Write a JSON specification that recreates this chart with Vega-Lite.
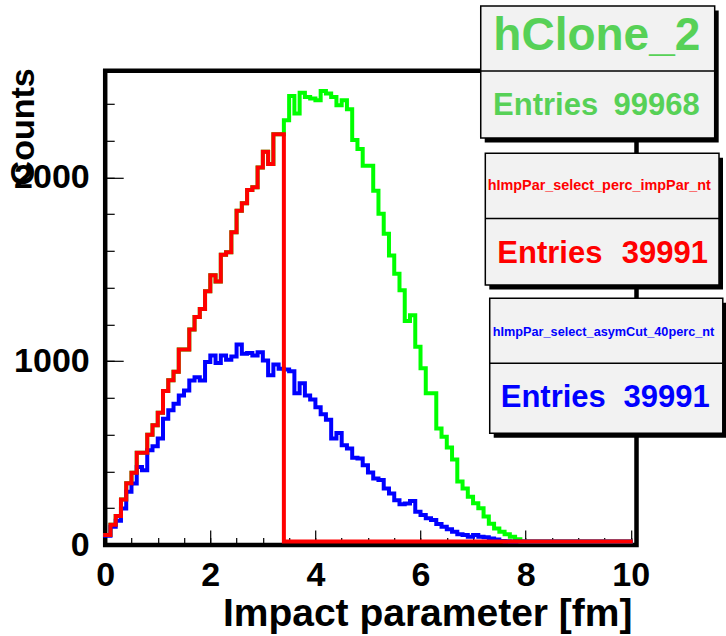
{
  "$schema": "https://vega.github.io/schema/vega-lite/v6.json",
  "autosize": {"type": "none"},
  "padding": {"left": 105.2, "top": 70.8, "right": 89.5, "bottom": 91},
  "width": 531.3,
  "height": 474.2,
  "background": "white",
  "config": {
    "view": {"stroke": "black", "strokeWidth": 4.5},
    "font": "Liberation Sans",
    "axis": {"labelFont": "Liberation Sans", "titleFont": "Liberation Sans", "labelFontWeight": "bold", "titleFontWeight": "bold", "labelColor": "black", "titleColor": "black", "tickColor": "black", "tickWidth": 1.2, "domain": false, "grid": false, "labelFlush": false, "labelOverlap": false, "zindex": 1}
  },
  "datasets": {
    "hClone_2": [
      {"b":0,"n":35},{"b":0.1,"n":91},{"b":0.2,"n":139},{"b":0.3,"n":228},{"b":0.4,"n":317},{"b":0.5,"n":374},{"b":0.6,"n":483},{"b":0.7,"n":483},{"b":0.8,"n":581},{"b":0.9,"n":633},
      {"b":1,"n":700},{"b":1.1,"n":819},{"b":1.2,"n":877},{"b":1.3,"n":924},{"b":1.4,"n":1044},{"b":1.5,"n":1044},{"b":1.6,"n":1153},{"b":1.7,"n":1222},{"b":1.8,"n":1265},{"b":1.9,"n":1361},
      {"b":2,"n":1448},{"b":2.1,"n":1415},{"b":2.2,"n":1560},{"b":2.3,"n":1574},{"b":2.4,"n":1683},{"b":2.5,"n":1800},{"b":2.6,"n":1840},{"b":2.7,"n":1913},{"b":2.8,"n":1927},{"b":2.9,"n":2035},
      {"b":3,"n":2120},{"b":3.1,"n":2054},{"b":3.2,"n":2216},{"b":3.3,"n":2216},{"b":3.4,"n":2292},{"b":3.5,"n":2424},{"b":3.6,"n":2328},{"b":3.7,"n":2442},{"b":3.8,"n":2419},{"b":3.9,"n":2410},
      {"b":4,"n":2401},{"b":4.1,"n":2451},{"b":4.2,"n":2437},{"b":4.3,"n":2419},{"b":4.4,"n":2374},{"b":4.5,"n":2401},{"b":4.6,"n":2352},{"b":4.7,"n":2184},{"b":4.8,"n":2135},{"b":4.9,"n":2044},
      {"b":5,"n":2044},{"b":5.1,"n":1909},{"b":5.2,"n":1783},{"b":5.3,"n":1674},{"b":5.4,"n":1556},{"b":5.5,"n":1457},{"b":5.6,"n":1367},{"b":5.7,"n":1200},{"b":5.8,"n":1231},{"b":5.9,"n":1059},
      {"b":6,"n":942},{"b":6.1,"n":806},{"b":6.2,"n":806},{"b":6.3,"n":615},{"b":6.4,"n":570},{"b":6.5,"n":511},{"b":6.6,"n":446},{"b":6.7,"n":326},{"b":6.8,"n":288},{"b":6.9,"n":244},
      {"b":7,"n":208},{"b":7.1,"n":181},{"b":7.2,"n":136},{"b":7.3,"n":97},{"b":7.4,"n":71},{"b":7.5,"n":53},{"b":7.6,"n":39},{"b":7.7,"n":26},{"b":7.8,"n":12},{"b":7.9,"n":0},
      {"b":8,"n":0},{"b":8.1,"n":0},{"b":8.2,"n":0},{"b":8.3,"n":0},{"b":8.4,"n":0},{"b":8.5,"n":0},{"b":8.6,"n":0},{"b":8.7,"n":0},{"b":8.8,"n":0},{"b":8.9,"n":0},
      {"b":9,"n":0},{"b":9.1,"n":0},{"b":9.2,"n":0},{"b":9.3,"n":0},{"b":9.4,"n":0},{"b":9.5,"n":0},{"b":9.6,"n":0},{"b":9.7,"n":0},{"b":9.8,"n":0},{"b":9.9,"n":0},
      {"b":10,"n":0}
    ],
    "hImpPar_select_perc_impPar_nt": [
      {"b":0,"n":35},{"b":0.1,"n":91},{"b":0.2,"n":139},{"b":0.3,"n":228},{"b":0.4,"n":317},{"b":0.5,"n":374},{"b":0.6,"n":483},{"b":0.7,"n":483},{"b":0.8,"n":581},{"b":0.9,"n":633},
      {"b":1,"n":700},{"b":1.1,"n":819},{"b":1.2,"n":877},{"b":1.3,"n":924},{"b":1.4,"n":1044},{"b":1.5,"n":1044},{"b":1.6,"n":1153},{"b":1.7,"n":1222},{"b":1.8,"n":1265},{"b":1.9,"n":1361},
      {"b":2,"n":1448},{"b":2.1,"n":1415},{"b":2.2,"n":1560},{"b":2.3,"n":1574},{"b":2.4,"n":1683},{"b":2.5,"n":1800},{"b":2.6,"n":1840},{"b":2.7,"n":1913},{"b":2.8,"n":1927},{"b":2.9,"n":2035},
      {"b":3,"n":2120},{"b":3.1,"n":2054},{"b":3.2,"n":2216},{"b":3.3,"n":2216},{"b":3.4,"n":0},{"b":3.5,"n":0},{"b":3.6,"n":0},{"b":3.7,"n":0},{"b":3.8,"n":0},{"b":3.9,"n":0},
      {"b":4,"n":0},{"b":4.1,"n":0},{"b":4.2,"n":0},{"b":4.3,"n":0},{"b":4.4,"n":0},{"b":4.5,"n":0},{"b":4.6,"n":0},{"b":4.7,"n":0},{"b":4.8,"n":0},{"b":4.9,"n":0},
      {"b":5,"n":0},{"b":5.1,"n":0},{"b":5.2,"n":0},{"b":5.3,"n":0},{"b":5.4,"n":0},{"b":5.5,"n":0},{"b":5.6,"n":0},{"b":5.7,"n":0},{"b":5.8,"n":0},{"b":5.9,"n":0},
      {"b":6,"n":0},{"b":6.1,"n":0},{"b":6.2,"n":0},{"b":6.3,"n":0},{"b":6.4,"n":0},{"b":6.5,"n":0},{"b":6.6,"n":0},{"b":6.7,"n":0},{"b":6.8,"n":0},{"b":6.9,"n":0},
      {"b":7,"n":0},{"b":7.1,"n":0},{"b":7.2,"n":0},{"b":7.3,"n":0},{"b":7.4,"n":0},{"b":7.5,"n":0},{"b":7.6,"n":0},{"b":7.7,"n":0},{"b":7.8,"n":0},{"b":7.9,"n":0},
      {"b":8,"n":0},{"b":8.1,"n":0},{"b":8.2,"n":0},{"b":8.3,"n":0},{"b":8.4,"n":0},{"b":8.5,"n":0},{"b":8.6,"n":0},{"b":8.7,"n":0},{"b":8.8,"n":0},{"b":8.9,"n":0},
      {"b":9,"n":0},{"b":9.1,"n":0},{"b":9.2,"n":0},{"b":9.3,"n":0},{"b":9.4,"n":0},{"b":9.5,"n":0},{"b":9.6,"n":0},{"b":9.7,"n":0},{"b":9.8,"n":0},{"b":9.9,"n":0},
      {"b":10,"n":0}
    ],
    "hImpPar_select_asymCut_40perc_nt": [
      {"b":0,"n":31},{"b":0.1,"n":80},{"b":0.2,"n":113},{"b":0.3,"n":180},{"b":0.4,"n":270},{"b":0.5,"n":316},{"b":0.6,"n":406},{"b":0.7,"n":388},{"b":0.8,"n":497},{"b":0.9,"n":518},
      {"b":1,"n":560},{"b":1.1,"n":668},{"b":1.2,"n":714},{"b":1.3,"n":750},{"b":1.4,"n":795},{"b":1.5,"n":822},{"b":1.6,"n":876},{"b":1.7,"n":894},{"b":1.8,"n":876},{"b":1.9,"n":976},
      {"b":2,"n":1012},{"b":2.1,"n":971},{"b":2.2,"n":1012},{"b":2.3,"n":989},{"b":2.4,"n":1006},{"b":2.5,"n":1072},{"b":2.6,"n":1021},{"b":2.7,"n":1025},{"b":2.8,"n":1012},{"b":2.9,"n":1030},
      {"b":3,"n":985},{"b":3.1,"n":904},{"b":3.2,"n":963},{"b":3.3,"n":940},{"b":3.4,"n":936},{"b":3.5,"n":926},{"b":3.6,"n":806},{"b":3.7,"n":861},{"b":3.8,"n":795},{"b":3.9,"n":772},
      {"b":4,"n":730},{"b":4.1,"n":693},{"b":4.2,"n":663},{"b":4.3,"n":560},{"b":4.4,"n":591},{"b":4.5,"n":524},{"b":4.6,"n":506},{"b":4.7,"n":456},{"b":4.8,"n":451},{"b":4.9,"n":415},
      {"b":5,"n":376},{"b":5.1,"n":343},{"b":5.2,"n":334},{"b":5.3,"n":289},{"b":5.4,"n":261},{"b":5.5,"n":225},{"b":5.6,"n":203},{"b":5.7,"n":207},{"b":5.8,"n":221},{"b":5.9,"n":162},
      {"b":6,"n":144},{"b":6.1,"n":126},{"b":6.2,"n":117},{"b":6.3,"n":95},{"b":6.4,"n":80},{"b":6.5,"n":66},{"b":6.6,"n":53},{"b":6.7,"n":39},{"b":6.8,"n":35},{"b":6.9,"n":26},
      {"b":7,"n":35},{"b":7.1,"n":26},{"b":7.2,"n":23},{"b":7.3,"n":17},{"b":7.4,"n":11},{"b":7.5,"n":3},{"b":7.6,"n":1},{"b":7.7,"n":0},{"b":7.8,"n":0},{"b":7.9,"n":0},
      {"b":8,"n":0},{"b":8.1,"n":0},{"b":8.2,"n":0},{"b":8.3,"n":0},{"b":8.4,"n":0},{"b":8.5,"n":0},{"b":8.6,"n":0},{"b":8.7,"n":0},{"b":8.8,"n":0},{"b":8.9,"n":0},
      {"b":9,"n":0},{"b":9.1,"n":0},{"b":9.2,"n":0},{"b":9.3,"n":0},{"b":9.4,"n":0},{"b":9.5,"n":0},{"b":9.6,"n":0},{"b":9.7,"n":0},{"b":9.8,"n":0},{"b":9.9,"n":0},
      {"b":10,"n":0}
    ]
  },
  "resolve": {"axis": {"x": "independent", "y": "independent"}},
  "layer": [
    {
      "data": {"name": "hClone_2"},
      "mark": {"type": "line", "interpolate": "step-after", "color": "#00ff00", "strokeWidth": 4, "yOffset": -3.5, "strokeJoin": "miter", "strokeCap": "square"},
      "encoding": {
        "x": {"field": "b", "type": "quantitative", "scale": {"domain": [0, 10.11], "nice": false, "zero": false},
              "axis": {"orient": "bottom", "values": [0, 2, 4, 6, 8, 10], "format": "d", "tickSize": -15, "labelFontSize": 34, "labelPadding": 28.5,
                       "title": "Impact parameter [fm]", "titleFontSize": 39, "titleAlign": "right", "titleBaseline": "alphabetic", "titleX": 526.8, "titleY": 80}},
        "y": {"field": "n", "type": "quantitative", "scale": {"domain": [0, 2580], "nice": false},
              "axis": {"orient": "left", "values": [0, 1000, 2000], "format": "d", "tickSize": -18, "labelFontSize": 34, "labelPadding": 34,
                       "title": "Counts", "titleFontSize": 34, "titleAngle": 270, "titleAlign": "right", "titleBaseline": "alphabetic", "titleX": -72, "titleY": -3}}
      }
    },
    {
      "data": {"name": "hImpPar_select_asymCut_40perc_nt"},
      "mark": {"type": "line", "interpolate": "step-after", "color": "#0000ff", "strokeWidth": 4, "yOffset": -3.5, "strokeJoin": "miter", "strokeCap": "square"},
      "encoding": {
        "x": {"field": "b", "type": "quantitative",
              "axis": {"orient": "bottom", "values": [0,0.5,1,1.5,2,2.5,3,3.5,4,4.5,5,5.5,6,6.5,7,7.5,8,8.5,9,9.5,10], "tickSize": -7.5, "labels": false, "title": null}},
        "y": {"field": "n", "type": "quantitative",
              "axis": {"orient": "left", "values": [0,200,400,600,800,1000,1200,1400,1600,1800,2000,2200,2400], "tickSize": -9, "labels": false, "title": null}}
      }
    },
    {
      "data": {"name": "hImpPar_select_perc_impPar_nt"},
      "mark": {"type": "line", "interpolate": "step-after", "color": "#ff0000", "strokeWidth": 4, "yOffset": -3.5, "strokeJoin": "miter", "strokeCap": "square"},
      "encoding": {
        "x": {"field": "b", "type": "quantitative", "axis": null},
        "y": {"field": "n", "type": "quantitative", "axis": null}
      }
    },
    {"data": {"values": [{}]}, "mark": {"type": "rect", "fill": "black"},
     "encoding": {"x": {"datum": 7.222, "axis": null}, "x2": {"datum": 11.674}, "y": {"datum": 2908, "axis": null}, "y2": {"datum": 2190}}},
    {"data": {"values": [{}]}, "mark": {"type": "rect", "fill": "#f2f2f2", "stroke": "black", "strokeWidth": 1.5},
     "encoding": {"x": {"datum": 7.146, "axis": null}, "x2": {"datum": 11.598}, "y": {"datum": 2932, "axis": null}, "y2": {"datum": 2214}}},
    {"data": {"values": [{}]}, "mark": {"type": "rule", "color": "black", "strokeWidth": 1.5},
     "encoding": {"x": {"datum": 7.146, "axis": null}, "x2": {"datum": 11.598}, "y": {"datum": 2579, "axis": null}}},
    {"data": {"values": [{}]}, "mark": {"type": "text", "text": "hClone_2", "font": "Liberation Sans", "fontWeight": "bold", "fontSize": 46, "color": "#57d157", "align": "center", "baseline": "alphabetic"},
     "encoding": {"x": {"datum": 9.355, "axis": null}, "y": {"datum": 2693, "axis": null}}},
    {"data": {"values": [{}]}, "mark": {"type": "text", "text": "Entries", "font": "Liberation Sans", "fontWeight": "bold", "fontSize": 31, "color": "#57d157", "align": "left", "baseline": "alphabetic"},
     "encoding": {"x": {"datum": 7.38, "axis": null}, "y": {"datum": 2339, "axis": null}}},
    {"data": {"values": [{}]}, "mark": {"type": "text", "text": "99968", "font": "Liberation Sans", "fontWeight": "bold", "fontSize": 31, "color": "#57d157", "align": "right", "baseline": "alphabetic"},
     "encoding": {"x": {"datum": 11.313, "axis": null}, "y": {"datum": 2339, "axis": null}}},

    {"data": {"values": [{}]}, "mark": {"type": "rect", "fill": "black"},
     "encoding": {"x": {"datum": 7.309, "axis": null}, "x2": {"datum": 11.756}, "y": {"datum": 2107, "axis": null}, "y2": {"datum": 1390}}},
    {"data": {"values": [{}]}, "mark": {"type": "rect", "fill": "#f2f2f2", "stroke": "black", "strokeWidth": 1.5},
     "encoding": {"x": {"datum": 7.233, "axis": null}, "x2": {"datum": 11.68}, "y": {"datum": 2131, "axis": null}, "y2": {"datum": 1415}}},
    {"data": {"values": [{}]}, "mark": {"type": "rule", "color": "black", "strokeWidth": 1.5},
     "encoding": {"x": {"datum": 7.233, "axis": null}, "x2": {"datum": 11.68}, "y": {"datum": 1777, "axis": null}}},
    {"data": {"values": [{}]}, "mark": {"type": "text", "text": "hImpPar_select_perc_impPar_nt", "font": "Liberation Sans", "fontWeight": "bold", "fontSize": 14.4, "color": "#ff0000", "align": "center", "baseline": "alphabetic"},
     "encoding": {"x": {"datum": 9.402, "axis": null}, "y": {"datum": 1931, "axis": null}}},
    {"data": {"values": [{}]}, "mark": {"type": "text", "text": "Entries", "font": "Liberation Sans", "fontWeight": "bold", "fontSize": 31, "color": "#ff0000", "align": "left", "baseline": "alphabetic"},
     "encoding": {"x": {"datum": 7.461, "axis": null}, "y": {"datum": 1533, "axis": null}}},
    {"data": {"values": [{}]}, "mark": {"type": "text", "text": "39991", "font": "Liberation Sans", "fontWeight": "bold", "fontSize": 31, "color": "#ff0000", "align": "right", "baseline": "alphabetic"},
     "encoding": {"x": {"datum": 11.471, "axis": null}, "y": {"datum": 1533, "axis": null}}},

    {"data": {"values": [{}]}, "mark": {"type": "rect", "fill": "black"},
     "encoding": {"x": {"datum": 7.393, "axis": null}, "x2": {"datum": 11.828}, "y": {"datum": 1318, "axis": null}, "y2": {"datum": 583}}},
    {"data": {"values": [{}]}, "mark": {"type": "rect", "fill": "#f2f2f2", "stroke": "black", "strokeWidth": 1.5},
     "encoding": {"x": {"datum": 7.317, "axis": null}, "x2": {"datum": 11.752}, "y": {"datum": 1342, "axis": null}, "y2": {"datum": 608}}},
    {"data": {"values": [{}]}, "mark": {"type": "rule", "color": "black", "strokeWidth": 1.5},
     "encoding": {"x": {"datum": 7.317, "axis": null}, "x2": {"datum": 11.752}, "y": {"datum": 989, "axis": null}}},
    {"data": {"values": [{}]}, "mark": {"type": "text", "text": "hImpPar_select_asymCut_40perc_nt", "font": "Liberation Sans", "fontWeight": "bold", "fontSize": 12.7, "color": "#0000ff", "align": "center", "baseline": "alphabetic"},
     "encoding": {"x": {"datum": 9.482, "axis": null}, "y": {"datum": 1137, "axis": null}}},
    {"data": {"values": [{}]}, "mark": {"type": "text", "text": "Entries", "font": "Liberation Sans", "fontWeight": "bold", "fontSize": 31, "color": "#0000ff", "align": "left", "baseline": "alphabetic"},
     "encoding": {"x": {"datum": 7.526, "axis": null}, "y": {"datum": 749, "axis": null}}},
    {"data": {"values": [{}]}, "mark": {"type": "text", "text": "39991", "font": "Liberation Sans", "fontWeight": "bold", "fontSize": 31, "color": "#0000ff", "align": "right", "baseline": "alphabetic"},
     "encoding": {"x": {"datum": 11.503, "axis": null}, "y": {"datum": 749, "axis": null}}}
  ]
}
